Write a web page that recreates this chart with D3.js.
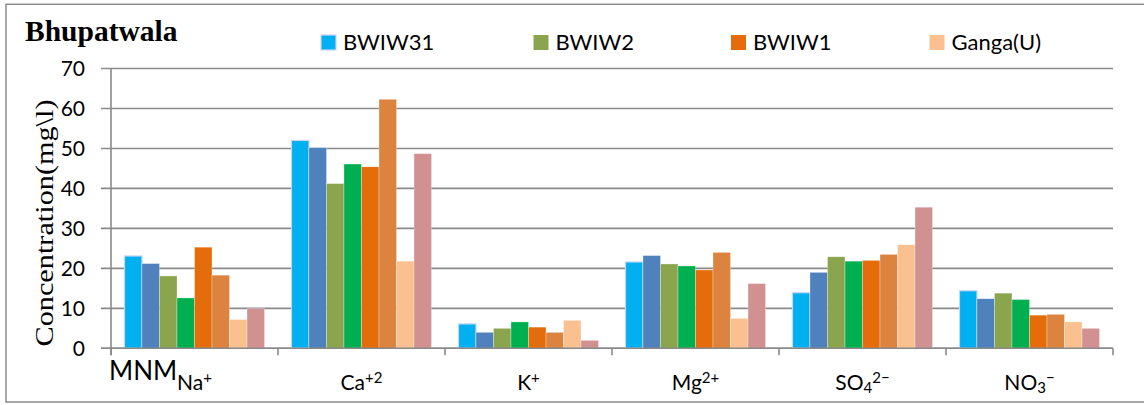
<!DOCTYPE html>
<html>
<head>
<meta charset="utf-8">
<script src="https://cdn.jsdelivr.net/npm/d3@7"></script>
<style>
  html, body { margin: 0; padding: 0; background: #fff; }
  svg { display: block; }
</style>
</head>
<body>
<svg id="chart" width="1144" height="405"></svg>
<script>
// ---- data ----
const categories = ["Na+", "Ca+2", "K+", "Mg2+", "SO42-", "NO3-"];
const seriesNames = ["BWIW31", "BWIW31 (b)", "BWIW2", "BWIW2 (b)", "BWIW1", "BWIW1 (b)", "Ganga(U)", "Ganga(U) (b)"];
const s1 = [23.1, 52.0, 6.1, 21.6, 13.9, 14.4];
const s2 = [21.2, 50.2, 4.0, 23.2, 19.0, 12.4];
const s3 = [18.1, 41.2, 5.0, 21.1, 22.9, 13.8];
const s4 = [12.6, 46.1, 6.6, 20.6, 21.8, 12.2];
const s5 = [25.3, 45.4, 5.3, 19.6, 22.0, 8.3];
const s6 = [18.3, 62.3, 4.0, 24.0, 23.5, 8.5];
const s7 = [7.2, 21.8, 7.0, 7.5, 25.9, 6.6];
const s8 = [9.9, 48.7, 2.0, 16.2, 35.3, 5.0];
const seriesValues = [s1, s2, s3, s4, s5, s6, s7, s8];
const yTicks = [0, 10, 20, 30, 40, 50, 60, 70];
const legendLabels = ["BWIW31", "BWIW2", "BWIW1", "Ganga(U)"];
const legendColorIdx = [0, 2, 4, 6];
const colors = ["#00B0F0", "#4F81BD", "#8BA54E", "#00B050", "#E46C0A", "#DC843F", "#FAC090", "#D19191"];
// label parts: [text, mode] mode: n normal, sup, sub
const catLabelParts = [
  [["Na", "n"], ["+", "sup"]],
  [["Ca", "n"], ["+2", "sup"]],
  [["K", "n"], ["+", "sup"]],
  [["Mg", "n"], ["2+", "sup"]],
  [["SO", "n"], ["4", "sub"], ["2\u2212", "sup"]],
  [["NO", "n"], ["3", "sub"], ["\u2212", "sup"]]
];

const svg = d3.select("#chart");
const plotLeft = 111, plotRight = 1113, plotTop = 68.5, plotBottom = 348.3;
const gray = "#8a8a8a";
const fontSans = "Lato, 'Open Sans', sans-serif";
const fontSerif = "'Liberation Serif', 'DejaVu Serif', serif";

// outer border
svg.append("rect").attr("x", 6).attr("y", 4.3).attr("width", 1160).attr("height", 397.7)
  .attr("fill", "none").attr("stroke", gray).attr("stroke-width", 1.5);

const x0 = d3.scaleBand().domain(categories).range([plotLeft, plotRight]).paddingInner(0).paddingOuter(0);
const x1 = d3.scaleBand().domain(seriesNames).range([0, x0.bandwidth()]).paddingInner(0).paddingOuter(0.77);
const y = d3.scaleLinear().domain([0, 70]).range([plotBottom, plotTop]);

// gridlines
svg.append("g").selectAll("line").data(yTicks).join("line")
  .attr("x1", plotLeft - 10).attr("x2", plotRight)
  .attr("y1", d => y(d)).attr("y2", d => y(d))
  .attr("stroke", gray).attr("stroke-width", 1.6);

// y axis labels
svg.append("g").selectAll("text").data(yTicks).join("text")
  .attr("x", 85).attr("y", d => y(d)).attr("dy", "0.36em")
  .attr("text-anchor", "end").attr("font-family", fontSans).attr("font-size", 21)
  .attr("fill", "#000").text(d => d);

// bars
const g = svg.append("g");
seriesNames.forEach((name, si) => {
  g.append("g").selectAll("rect").data(seriesValues[si]).join("rect")
    .attr("x", (d, i) => x0(categories[i]) + x1(name))
    .attr("width", x1.bandwidth())
    .attr("y", d => y(d))
    .attr("height", d => y(0) - y(d))
    .attr("fill", colors[si])
    .attr("stroke", si === 0 ? "#c9d6f2" : "rgba(255,255,255,0.5)")
    .attr("stroke-width", si === 0 ? 1.2 : 0.6);
});

// y axis line
svg.append("line").attr("x1", plotLeft).attr("x2", plotLeft).attr("y1", plotTop).attr("y2", plotBottom + 7)
  .attr("stroke", gray).attr("stroke-width", 1.6);
// x axis line
svg.append("line").attr("x1", plotLeft - 10).attr("x2", plotRight).attr("y1", plotBottom).attr("y2", plotBottom)
  .attr("stroke", gray).attr("stroke-width", 1.6);
// category ticks
const tickXs = categories.map(c => x0(c)).concat([plotRight]);
svg.append("g").selectAll("line").data(tickXs).join("line")
  .attr("x1", d => d).attr("x2", d => d).attr("y1", plotBottom).attr("y2", plotBottom + 7)
  .attr("stroke", gray).attr("stroke-width", 1.6);

// category labels
categories.forEach((c, i) => {
  const t = svg.append("text")
    .attr("x", x0(c) + x0.bandwidth() / 2).attr("y", 390)
    .attr("text-anchor", "middle").attr("font-family", fontSans).attr("font-size", 21).attr("fill", "#000");
  catLabelParts[i].forEach(([txt, mode]) => {
    const ts = t.append("tspan").text(txt);
    if (mode === "sup") ts.attr("font-size", 15).attr("baseline-shift", "50%");
    if (mode === "sub") ts.attr("font-size", 15).attr("baseline-shift", "-20%");
  });
});

// MNM text
svg.append("text").attr("x", 109).attr("y", 380).attr("font-family", fontSans).attr("font-size", 26)
  .attr("fill", "#000").text("MNM");

// title
svg.append("text").attr("x", 25).attr("y", 41).attr("font-family", fontSerif).attr("font-weight", "bold")
  .attr("font-size", 29.5).attr("fill", "#000").text("Bhupatwala");

// y axis title
svg.append("text").attr("transform", "translate(53,223) rotate(-90)")
  .attr("text-anchor", "middle").attr("font-family", fontSerif).attr("font-size", 26)
  .attr("textLength", 247).attr("lengthAdjust", "spacingAndGlyphs")
  .attr("fill", "#000").text("Concentration(mg\\l)");

// legend
const legendXs = [321, 533.5, 731, 929.5];
const lg = svg.append("g").selectAll("g").data(legendLabels).join("g")
  .attr("transform", (d, i) => `translate(${legendXs[i]},35)`);
lg.append("rect").attr("width", 15).attr("height", 15)
  .attr("fill", (d, i) => colors[legendColorIdx[i]])
  .attr("stroke", (d, i) => i === 0 ? "#c9d6f2" : "none").attr("stroke-width", 1.2);
lg.append("text").attr("x", 22).attr("y", 15).attr("font-family", fontSans).attr("font-size", 22)
  .attr("fill", "#000").text(d => d);
</script>
</body>
</html>
